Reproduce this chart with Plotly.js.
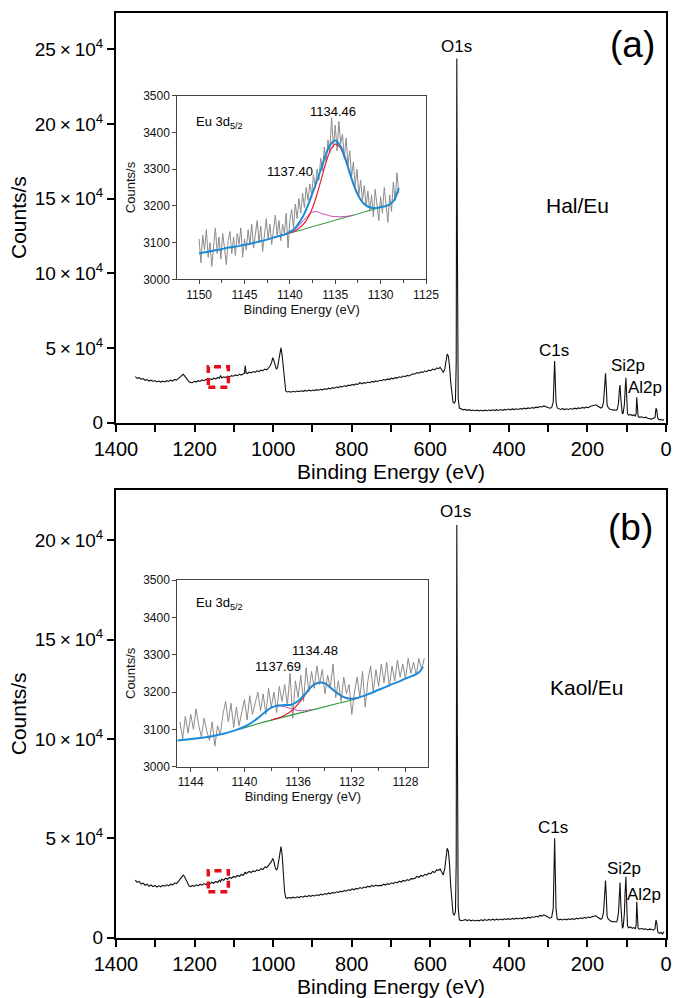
<!DOCTYPE html>
<html><head><meta charset="utf-8">
<script src="https://cdn.plot.ly/plotly-3.0.1.min.js"></script>
<style>html,body{margin:0;padding:0;background:#fff;}#chart{width:678px;height:998px;}</style>
</head><body><div id="chart"></div>
<script>
// ---------- Survey spectra (binding energy, eV) ----------
const surveyEnergy = [
1351,1346,1341,1336,1331,1326,1321,1316,1311,1306,1301,1296,1291,1286,1281,1276,1271,1266,1261,1256,1251,1246,1241,
1236,1232,1229,1226,1222,1218,1214,1210,1206,
1201,1196,1191,1186,1181,1176,1171,1166,1161,1156,1151,1146,1141,1137,1134,1131,1126,1121,1116,1111,1106,1101,1096,1091,1086,1081,1076,
1073,1071,1069,1066,1061,1056,1051,1046,1041,1036,1031,1026,1021,1016,1012,1008,1004,1001,998,995,992,989,986,983,980,977,974,971,968,964,
959,954,949,944,939,934,929,924,919,914,909,904,899,894,889,884,879,874,869,864,859,854,849,844,839,834,829,824,819,814,
809,804,799,794,789,784,779,774,769,764,759,754,749,744,739,734,729,724,719,714,709,704,699,694,689,684,679,674,669,664,
659,654,649,644,639,634,629,624,619,614,609,604,599,594,589,584,579,
575,571,567,563,560,557,554,551,548,545,542,539,536,534,532.5,531,529,526,
521,516,511,506,501,496,491,486,481,476,471,466,461,456,451,446,441,436,431,426,421,416,411,406,401,396,391,386,381,376,
371,366,361,356,351,346,341,336,331,326,321,316,311,306,301,296,
291,287,285,283.5,282,280,277,
273,268,263,258,253,248,243,238,233,228,223,218,213,208,203,198,193,
188,183,178,174,170,166,162,159,156,154,152,150,147,143,139,135,131,127,124,121,119,117,115,113,111,109,106,104,102,100,
98,95,90,86,82,78,76,74.5,73,71,67,62,57,52,47,42,37,32,28,25.5,23.5,21,17,13,9,5
];
const halEuCounts = [
30800,29600,30100,29100,29500,28400,28900,27900,28500,27600,28200,27300,27900,27200,27800,27300,28100,27600,28500,27900,29000,28500,29700,
30700,31900,32400,31500,29900,28400,27400,26900,26800,
27700,27200,28100,27600,28600,28100,29000,28600,29400,28900,29800,29300,30300,29800,31600,30000,30700,30200,31100,30600,31500,31100,32000,31500,32400,31900,32800,
33000,38200,33400,32900,33800,33300,34200,33700,34700,34200,35200,34800,35900,35400,36800,37900,40300,43600,41500,37600,35800,36800,40500,46500,50200,45000,35000,25500,21200,20600,
20900,20400,21000,20600,21200,20800,21400,21000,21600,21100,21800,21300,21900,21500,22100,21700,22400,22000,22700,22300,23100,22700,23500,23100,23900,23500,24300,23900,24700,24300,
25100,24800,25600,25200,26000,25600,26900,26000,26800,26400,27200,26800,27600,27200,28000,27600,28400,28100,28900,28500,29300,28900,29800,29400,30200,29900,30700,30300,31200,30800,
31700,31300,32200,32800,32600,33500,33100,34000,33600,34600,34200,35200,34800,35900,35400,36600,36200,
37100,35500,33600,36000,42000,46000,44500,38000,27000,17500,13500,13000,14500,40000,243800,120000,16000,9800,
9000,8600,8900,8300,8700,8100,8500,8000,8400,7900,8300,7900,8400,8000,8500,8100,8600,8100,8700,8200,8800,8300,8900,8500,9100,8600,9200,8800,9300,8900,
9500,9100,9700,9300,9900,9500,10100,9800,10400,10100,10800,10500,11200,10600,10200,9700,
10100,14000,30000,41300,30000,14000,9900,
9300,8900,9400,8800,9300,8900,9500,9000,9700,9300,9900,9500,10200,9800,10500,10100,10900,
11400,11800,12000,11200,10300,9800,10500,14000,25000,33000,24000,12000,10000,9000,8800,8400,8600,8200,9000,13000,21000,25200,16000,7500,5800,6500,12000,22000,30100,17000,
6000,5100,5500,4800,5200,4600,6000,17000,11000,4200,3600,4000,3300,3700,3000,2800,2400,2900,3600,9600,8500,3000,1900,2200,1500,2100
];
const kaolEuCounts = [
29000,27800,28300,27000,27400,26400,26900,25900,26500,25700,26300,25500,26100,25600,26300,25900,26600,26100,27000,26500,27500,27200,28300,
29400,30800,31500,30900,29000,27200,26000,25700,26300,
25800,26600,26100,26900,26400,27200,26700,27600,27100,27900,27400,28300,27800,28900,28200,29400,28900,29900,29400,30300,29900,30800,30400,31300,30900,31800,31400,
32300,33000,32200,32700,33300,32800,33600,33200,34100,33700,34700,34300,35600,35300,36400,37000,38400,39900,38300,35500,34000,34800,38000,42500,45800,41500,32000,23500,20200,19800,
20200,19900,20400,20000,20600,20200,20800,20400,21000,20600,21200,20800,21300,21000,21600,21200,21900,21500,22200,21800,22500,22100,22800,22400,23100,22800,23400,23000,23800,23400,
24100,23800,24500,24100,24800,24500,25200,24800,25500,25200,25900,25500,26300,25800,26500,26100,26300,26200,26900,26500,27200,26800,27600,27200,28000,27600,28400,28000,28800,28400,
29200,28800,29700,29600,29900,30800,30400,31300,30900,31900,31500,32500,32100,33300,32800,34100,33900,
34600,33000,31500,35000,41000,45000,43500,37000,26000,16500,12000,11400,13000,38000,207600,100000,15000,9000,
8600,8800,9100,8600,9000,8500,8900,8400,8800,8500,9000,8600,9100,8700,9200,8800,9300,8800,9300,8900,9400,9000,9500,9100,9600,9200,9700,9300,9800,9400,
9900,9500,10100,9700,10300,9900,10500,10200,10800,10500,11200,10900,11500,11000,10400,9800,
10200,15000,35000,50000,35000,15000,9500,
9000,9300,8900,9400,9000,9500,9100,9600,9200,9800,9400,10000,9600,10200,9800,10400,10100,
10600,10900,11000,10300,9700,9300,10000,13000,22000,28700,21000,11000,9300,8500,8200,8000,8100,7800,8800,12500,21000,27700,16500,6500,4700,5500,12000,23000,30700,17000,
6000,5000,5400,4700,5100,4600,6000,18100,11000,4700,4300,4700,4200,4500,3900,4300,4200,3800,4500,8900,7500,3000,2200,2600,1900,3000
];

// ---------- Eu 3d5/2 high-resolution insets ----------
// (a) Hal/Eu
const rawStartA = 1150, rawStepA = -0.2;
const rawCountsA = [
3110,3045,3120,3080,3135,3060,3100,3035,3090,3140,
3070,3115,3055,3125,3085,3040,3105,3130,3070,3115,
3065,3125,3095,3140,3060,3110,3080,3135,3095,3150,
3085,3120,3160,3100,3145,3075,3130,3165,3110,3150,
3095,3140,3175,3120,3160,3105,3150,3125,3180,3085,
3160,3190,3140,3205,3165,3220,3180,3235,3195,3250,
3215,3260,3230,3285,3250,3300,3270,3330,3295,3360,
3320,3380,3345,3440,3360,3420,3350,3430,3370,3395,
3330,3385,3310,3350,3280,3320,3255,3300,3230,3270,
3215,3255,3200,3240,3185,3230,3170,3245,3195,3160,
3225,3180,3250,3195,3155,3230,3185,3265,3215,3290,
3235];
const envEnergyA = [1150,1149.5,1149,1148.5,1148,1147.5,1147,1146.5,1146,1145.5,1145,1144.5,1144,1143.5,1143,1142.5,1142,1141.5,1141,1140.5,1140,1139.5,1139,1138.5,1138,1137.5,1137,1136.5,1136,1135.5,1135,1134.5,1134,1133.5,1133,1132.5,1132,1131.5,1131,1130.5,1130,1129.5,1129,1128.5,1128];
const envelopeA = [3071,3073,3075,3078,3080,3082,3085,3087,3089,3091,3094,3096,3099,3102,3105,3108,3112,3116,3119,3123,3129,3137,3153,3174,3202,3235,3269,3305,3342,3368,3378,3366,3337,3298,3260,3230,3210,3199,3195,3194,3197,3199,3204,3216,3249];
const compEnergyA = [1141,1140.5,1140,1139.5,1139,1138.5,1138,1137.5,1137,1136.5,1136,1135.5,1135,1134.5,1134,1133.5,1133,1132.5,1132,1131.5,1131,1130.5,1130];
const backgroundA = [3119,3122,3126,3129,3133,3136,3140,3143,3147,3150,3154,3157,3161,3164,3168,3171,3175,3178,3182,3185,3189,3192,3196];
const peak1134A = [3119,3122,3127,3131,3139,3150,3168,3195,3232,3276,3320,3353,3368,3360,3334,3297,3260,3230,3210,3199,3195,3194,3197];
const peak1137A = [3119,3123,3128,3135,3147,3160,3174,3183,3184,3179,3176,3172,3171,3170,3171,3172,3175];

// (b) Kaol/Eu
const rawStartB = 1144.8, rawStepB = -0.2;
const rawCountsB = [
3120,3075,3135,3090,3140,3100,3155,3110,3080,3130,
3095,3070,3120,3055,3110,3085,3140,3175,3120,3170,
3105,3160,3110,3145,3180,3125,3190,3140,3175,3200,
3150,3195,3140,3210,3160,3200,3145,3215,3175,3220,
3165,3250,3130,3230,3185,3245,3175,3265,3200,3255,
3210,3270,3220,3260,3195,3245,3210,3275,3185,3230,
3175,3240,3195,3220,3140,3200,3240,3185,3255,3160,
3230,3270,3200,3260,3215,3275,3225,3280,3215,3270,
3230,3285,3240,3275,3235,3290,3250,3280,3245,3290,
3260,3290];
const envEnergyB = [1145,1144.5,1144,1143.5,1143,1142.5,1142,1141.5,1141,1140.5,1140,1139.5,1139,1138.5,1138,1137.5,1137,1136.5,1136,1135.5,1135,1134.5,1134,1133.5,1133,1132.5,1132,1131.5,1131,1130.5,1130,1129.5,1129,1128.5,1128,1127.5,1127,1126.7];
const envelopeB = [3070,3072,3074,3076,3078,3081,3085,3089,3094,3100,3107,3117,3130,3145,3158,3164,3165,3166,3176,3194,3215,3225,3223,3209,3195,3185,3182,3185,3191,3198,3206,3213,3221,3228,3236,3243,3252,3268];
const bgEnergyB = [1140.5,1140,1139.5,1139,1138.5,1138,1137.5,1137,1136.5,1136,1135.5,1135,1134.5,1134,1133.5,1133,1132.5,1132,1131.5];
const backgroundB = [3099,3105,3110,3115,3120,3125,3129,3134,3138,3143,3147,3152,3156,3161,3165,3170,3174,3178,3184];
const peak1134EnergyB = [1138,1137.5,1137,1136.5,1136,1135.5,1135,1134.5,1134,1133.5,1133,1132.5,1132,1131.5];
const peak1134B = [3125,3130,3138,3149,3168,3191,3214,3225,3223,3209,3195,3185,3182,3185];
const peak1137EnergyB = [1140.5,1140,1139.5,1139,1138.5,1138,1137.5,1137,1136.5,1136,1135.5,1135];
const peak1137B = [3100,3107,3117,3130,3145,3158,3163,3161,3155,3151,3150,3153];

// ---------- tick labels ----------
const surveyTickValsA = [0,50000,100000,150000,200000,250000];
const surveyTickTextA = ['0','5\u2009×\u200910<sup>4</sup>','10\u2009×\u200910<sup>4</sup>','15\u2009×\u200910<sup>4</sup>','20\u2009×\u200910<sup>4</sup>','25\u2009×\u200910<sup>4</sup>'];
const surveyTickValsB = [0,50000,100000,150000,200000];
const surveyTickTextB = ['0','5\u2009×\u200910<sup>4</sup>','10\u2009×\u200910<sup>4</sup>','15\u2009×\u200910<sup>4</sup>','20\u2009×\u200910<sup>4</sup>'];

// highlighted Eu region on the surveys
const euBoxA = {eHigh:1165, eLow:1114, cLow:23700, cHigh:37500};
const euBoxB = {eHigh:1165, eLow:1114, cLow:23100, cHigh:33700};

// ---------- build ----------
const grid = (start, step, n) => Array.from({length:n}, (_, i) => +(start + i*step).toFixed(1));
const rawEnergyA = grid(rawStartA, rawStepA, rawCountsA.length);
const rawEnergyB = grid(rawStartB, rawStepB, rawCountsB.length);
const compA = compEnergyA.slice(0, peak1137A.length);

const W = 678, H = 998;
const px = x => x / W, py = y => 1 - y / H;
const FONT = 'Liberation Sans, Arial, sans-serif';
const C = {grey:'#8c8c8c', blue:'#1c8ad8', red:'#e3242b', mag:'#c848b8', green:'#2f9a3c'};

const traces = [
  {x:surveyEnergy, y:halEuCounts, xaxis:'x', yaxis:'y', mode:'lines', line:{color:'#111', width:1.1}},
  {x:rawEnergyA, y:rawCountsA, xaxis:'x2', yaxis:'y2', mode:'lines', line:{color:C.grey, width:1}},
  {x:compEnergyA, y:backgroundA, xaxis:'x2', yaxis:'y2', mode:'lines', line:{color:C.green, width:1}},
  {x:compA, y:peak1137A, xaxis:'x2', yaxis:'y2', mode:'lines', line:{color:C.mag, width:1, shape:'spline'}},
  {x:compEnergyA, y:peak1134A, xaxis:'x2', yaxis:'y2', mode:'lines', line:{color:C.red, width:1.2, shape:'spline'}},
  {x:envEnergyA, y:envelopeA, xaxis:'x2', yaxis:'y2', mode:'lines', line:{color:C.blue, width:2, shape:'spline'}},
  {x:surveyEnergy, y:kaolEuCounts, xaxis:'x3', yaxis:'y3', mode:'lines', line:{color:'#111', width:1.1}},
  {x:rawEnergyB, y:rawCountsB, xaxis:'x4', yaxis:'y4', mode:'lines', line:{color:C.grey, width:1}},
  {x:bgEnergyB, y:backgroundB, xaxis:'x4', yaxis:'y4', mode:'lines', line:{color:C.green, width:1.2}},
  {x:peak1137EnergyB, y:peak1137B, xaxis:'x4', yaxis:'y4', mode:'lines', line:{color:C.mag, width:1, shape:'spline'}},
  {x:peak1134EnergyB, y:peak1134B, xaxis:'x4', yaxis:'y4', mode:'lines', line:{color:C.red, width:1.2, shape:'spline'}},
  {x:envEnergyB, y:envelopeB, xaxis:'x4', yaxis:'y4', mode:'lines', line:{color:C.blue, width:2, shape:'spline'}}
];

function mainX(anchor) {
  return {domain:[px(116), px(666)], anchor, range:[1400,0], tickmode:'linear', tick0:0, dtick:200,
    ticks:'outside', ticklen:7, tickwidth:2, tickcolor:'#000',
    minor:{dtick:100, ticks:'outside', ticklen:7, tickwidth:2, tickcolor:'#000'},
    showline:true, linewidth:2, linecolor:'#000', mirror:true, showgrid:false, zeroline:false,
    tickfont:{size:20, color:'#000'},
    title:{text:'Binding Energy (eV)', font:{size:21, color:'#000'}, standoff:4}};
}
function mainY(anchor, top, bottom, max, vals, text) {
  return {domain:[py(bottom), py(top)], anchor, range:[0, max], tickmode:'array', tickvals:vals, ticktext:text,
    ticks:'outside', ticklen:7, tickwidth:2, tickcolor:'#000',
    showline:true, linewidth:2, linecolor:'#000', mirror:true, showgrid:false, zeroline:false,
    tickfont:{size:19, color:'#000'},
    title:{text:'Counts/s', font:{size:21, color:'#000'}, standoff:2}};
}
function insetX(anchor, left, right, range, tick0, dtick) {
  return {domain:[px(left), px(right)], anchor, range, tickmode:'linear', tick0, dtick,
    ticks:'outside', ticklen:4, tickwidth:1, tickcolor:'#444',
    minor:{dtick:dtick/2, ticks:'outside', ticklen:3, tickwidth:1, tickcolor:'#444'},
    showline:true, linewidth:1, linecolor:'#444', mirror:true, showgrid:false, zeroline:false,
    tickfont:{size:12, color:'#111'},
    title:{text:'Binding Energy (eV)', font:{size:13, color:'#111'}, standoff:2}};
}
function insetY(anchor, top, bottom) {
  return {domain:[py(bottom), py(top)], anchor, range:[3000,3500], tickmode:'linear', tick0:3000, dtick:100,
    ticks:'outside', ticklen:4, tickwidth:1, tickcolor:'#444',
    showline:true, linewidth:1, linecolor:'#444', mirror:true, showgrid:false, zeroline:false,
    tickfont:{size:12, color:'#111'},
    title:{text:'Counts/s', font:{size:13, color:'#111'}, standoff:4}};
}

function ann(text, x, y, size, xanchor) {
  return {text, x:px(x), y:py(y), xref:'paper', yref:'paper', showarrow:false,
    xanchor:xanchor||'center', yanchor:'middle', font:{size, color:'#000', family:FONT}};
}
const annotations = [
  ann('O1s', 456, 47, 17), ann('(a)', 632, 45, 37), ann('Hal/Eu', 577, 205, 21),
  ann('C1s', 554, 350, 17), ann('Si2p', 628, 365, 17), ann('Al2p', 645, 388, 17),
  ann('Eu 3d<sub>5/2</sub>', 194, 123, 13, 'left'), ann('1134.46', 333, 111, 13), ann('1137.40', 290, 172, 13),
  ann('O1s', 455, 512, 17), ann('(b)', 630, 527, 37), ann('Kaol/Eu', 587, 687, 21),
  ann('C1s', 553, 827, 17), ann('Si2p', 624, 868, 17), ann('Al2p', 644, 894, 17),
  ann('Eu 3d<sub>5/2</sub>', 194, 603, 13, 'left'), ann('1134.48', 315, 650, 13), ann('1137.69', 278, 666, 13)
];

function box(xr, yr, b) {
  return {type:'rect', xref:xr, yref:yr, x0:b.eHigh, x1:b.eLow, y0:b.cLow, y1:b.cHigh,
    line:{color:'#e3101a', width:3.5, dash:'7px,5px'}, fillcolor:'rgba(0,0,0,0)'};
}

const layout = {
  width:W, height:H, margin:{l:0, r:0, t:0, b:0}, showlegend:false,
  paper_bgcolor:'#fff', plot_bgcolor:'#fff', font:{family:FONT, color:'#000'},
  xaxis: mainX('y'),
  yaxis: mainY('x', 12.5, 422.7, 274600, surveyTickValsA, surveyTickTextA),
  xaxis2: insetX('y2', 177.3, 426, [1152.4, 1125], 1125, 5),
  yaxis2: insetY('x2', 95.7, 279.3),
  xaxis3: mainX('y3'),
  yaxis3: mainY('x3', 490, 937.7, 225200, surveyTickValsB, surveyTickTextB),
  xaxis4: insetX('y4', 177.3, 428.3, [1145, 1126.3], 1128, 4),
  yaxis4: insetY('x4', 580, 766.7),
  annotations,
  shapes:[box('x','y',euBoxA), box('x3','y3',euBoxB)]
};

Plotly.newPlot('chart', traces, layout, {staticPlot:true, displayModeBar:false});
</script></body></html>
